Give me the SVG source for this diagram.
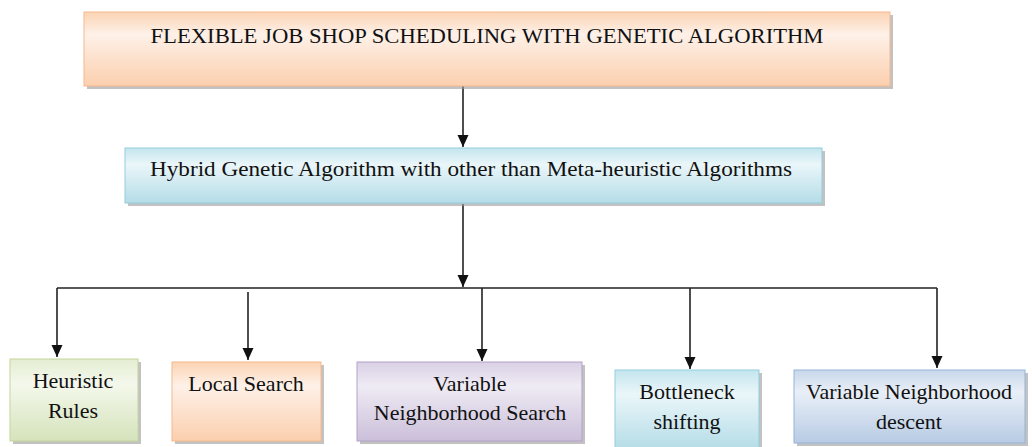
<svg xmlns="http://www.w3.org/2000/svg" width="1032" height="447" viewBox="0 0 1032 447">
<style>
text{font-family:'Liberation Serif','Tinos','DejaVu Serif',serif;font-size:22px;fill:#111;text-anchor:middle}
.c{stroke:#222;stroke-width:1.6;fill:none}
.sh{fill:#9a9a9a;opacity:0.6}
</style>
<defs>
<marker id="ah" viewBox="0 0 12 12" refX="12" refY="6" markerWidth="12" markerHeight="12" markerUnits="userSpaceOnUse" orient="auto"><path d="M0,0.5L12,6L0,11.5z" fill="#111"/></marker>
<linearGradient id="gOr" x1="0" y1="0" x2="0" y2="1"><stop offset="0" stop-color="#fbd3b3"/><stop offset="0.3" stop-color="#fef1e8"/><stop offset="1" stop-color="#fbcfae"/></linearGradient>
<linearGradient id="gBl" x1="0" y1="0" x2="0" y2="1"><stop offset="0" stop-color="#c4e5ee"/><stop offset="0.3" stop-color="#eaf6f9"/><stop offset="1" stop-color="#b4dce7"/></linearGradient>
<linearGradient id="gGr" x1="0" y1="0" x2="0" y2="1"><stop offset="0" stop-color="#e4edd2"/><stop offset="0.3" stop-color="#f4f8ec"/><stop offset="1" stop-color="#d5e3bb"/></linearGradient>
<linearGradient id="gPu" x1="0" y1="0" x2="0" y2="1"><stop offset="0" stop-color="#d9d0e5"/><stop offset="0.3" stop-color="#efebf4"/><stop offset="1" stop-color="#cbbfda"/></linearGradient>
<linearGradient id="gSt" x1="0" y1="0" x2="0" y2="1"><stop offset="0" stop-color="#c8d7ea"/><stop offset="0.3" stop-color="#e9eff7"/><stop offset="1" stop-color="#b7cbe4"/></linearGradient>
</defs>
<g id="connectors">
<path class="c" d="M463,86V147" marker-end="url(#ah)"/>
<path class="c" d="M463,204V287" marker-end="url(#ah)"/>
<path class="c" d="M57,288H937"/>
<path class="c" d="M57,288V357" marker-end="url(#ah)"/>
<path class="c" d="M248,292V360" marker-end="url(#ah)"/>
<path class="c" d="M482,288V361" marker-end="url(#ah)"/>
<path class="c" d="M690,288V369" marker-end="url(#ah)"/>
<path class="c" d="M937,288V368" marker-end="url(#ah)"/>
</g>
<g id="n-top">
<rect class="sh" x="87" y="15" width="806" height="74"/>
<rect x="84" y="12" width="806" height="74" fill="url(#gOr)" stroke="#f6b98e" stroke-width="1"/>
<text x="487" y="43" font-size="23" textLength="673" lengthAdjust="spacingAndGlyphs">FLEXIBLE JOB SHOP SCHEDULING WITH GENETIC ALGORITHM</text>
</g>
<g id="n-hybrid">
<rect class="sh" x="128" y="151" width="697" height="55"/>
<rect x="125" y="148" width="697" height="55" fill="url(#gBl)" stroke="#93cddd" stroke-width="1"/>
<text x="471" y="176" textLength="642" lengthAdjust="spacingAndGlyphs">Hybrid Genetic Algorithm with other than Meta-heuristic Algorithms</text>
</g>
<g id="n-heuristic">
<rect class="sh" x="13" y="362" width="128" height="82"/>
<rect x="10" y="359" width="128" height="82" fill="url(#gGr)" stroke="#c3d69b" stroke-width="1"/>
<text x="73" y="388">Heuristic</text>
<text x="73" y="418">Rules</text>
</g>
<g id="n-local">
<rect class="sh" x="175" y="365" width="149" height="79"/>
<rect x="172" y="362" width="149" height="79" fill="url(#gOr)" stroke="#f6b98e" stroke-width="1"/>
<text x="246" y="391">Local Search</text>
</g>
<g id="n-vns">
<rect class="sh" x="360" y="365" width="225" height="79"/>
<rect x="357" y="362" width="225" height="79" fill="url(#gPu)" stroke="#b3a2c7" stroke-width="1"/>
<text x="470" y="391">Variable</text>
<text x="470" y="420">Neighborhood Search</text>
</g>
<g id="n-bottleneck">
<rect class="sh" x="618" y="373" width="144" height="80"/>
<rect x="615" y="370" width="144" height="80" fill="url(#gBl)" stroke="#93cddd" stroke-width="1"/>
<text x="687" y="399">Bottleneck</text>
<text x="687" y="429">shifting</text>
</g>
<g id="n-vnd">
<rect class="sh" x="797" y="373" width="231" height="73"/>
<rect x="794" y="370" width="231" height="73" fill="url(#gSt)" stroke="#95b3d7" stroke-width="1"/>
<text x="909" y="399">Variable Neighborhood</text>
<text x="909" y="429">descent</text>
</g>
</svg>
